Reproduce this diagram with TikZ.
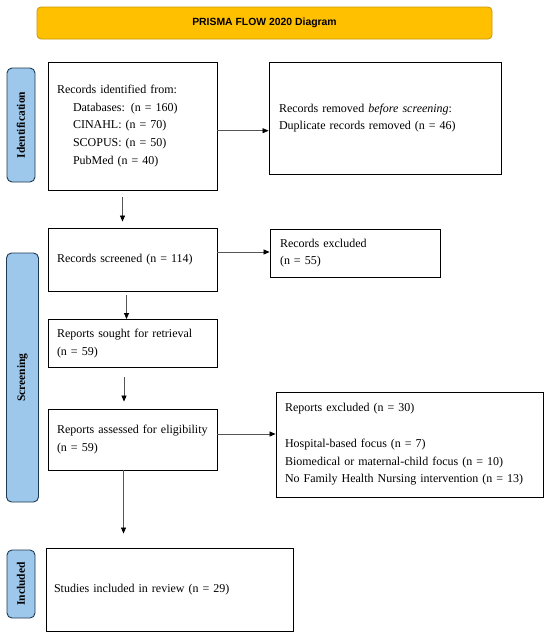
\documentclass[tikz,border=0pt]{standalone}
\usepackage{fontspec}
\setmainfont{Liberation Serif}
\newfontfamily\titlefont{Liberation Sans}
\usetikzlibrary{arrows.meta}
\definecolor{titlefill}{HTML}{FFC000}
\definecolor{titledraw}{HTML}{C8960A}
\definecolor{barfill}{HTML}{9DC8EC}
\definecolor{bardraw}{HTML}{1E3A52}
\definecolor{arrcol}{HTML}{555555}
\begin{document}
\begin{tikzpicture}[x=1pt,y=-1pt,
  box/.style={draw=black, line width=0.9pt, fill=white, inner ysep=0pt,
    align=left, anchor=center,
    font=\fontsize{12}{17.7}\selectfont},
  sidebar/.style={draw=bardraw, line width=0.9pt, fill=barfill, rounded corners=5pt,
    inner sep=0pt, anchor=center},
  sidelabel/.style={rotate=90, font=\fontsize{11.5}{12}\selectfont\bfseries},
  arr/.style={draw=arrcol, line width=0.7pt, -{Triangle[length=6pt,width=5pt,fill=black,color=black]}}
]
\useasboundingbox (0,0) rectangle (550,637);
\fill[white] (0,0) rectangle (550,637);

% title
\node[draw=titledraw, line width=0.8pt, fill=titlefill, rounded corners=4pt,
  minimum width=455, minimum height=32, inner sep=0pt,
  font=\titlefont\fontsize{10.4}{12}\selectfont\bfseries] (title) at (264.5,23) {PRISMA FLOW 2020 Diagram};

% side bars
\node[sidebar, minimum width=28, minimum height=114] (barid) at (21,125) {};
\node[sidelabel] (labid) at (barid.center) {Identification};
\node[sidebar, minimum width=32, minimum height=249] (barscr) at (22.5,377.5) {};
\node[sidelabel] (labscr) at (barscr.center) {Screening};
\node[sidebar, minimum width=28, minimum height=68] (barinc) at (21,584) {};
\node[sidelabel] (labinc) at (barinc.center) {Included};

% boxes
\node[box, minimum height=128, text width=151, inner xsep=9] (id) at (132.5,126)
  {Records identified from:\\
   \hspace*{16pt}Databases: (n = 160)\\
   \hspace*{16pt}CINAHL: (n = 70)\\
   \hspace*{16pt}SCOPUS: (n = 50)\\
   \hspace*{16pt}PubMed (n = 40)};
\node[box, minimum height=112, text width=212, inner xsep=10] (rem) at (385,118)
  {Records removed \textit{before screening}:\\
   Duplicate records removed (n = 46)};
\node[box, minimum height=63, text width=151, inner xsep=9] (scr) at (132.5,259.5)
  {Records screened (n = 114)};
\node[box, minimum height=48, text width=150, inner xsep=10] (exc) at (355,253)
  {Records excluded\\(n = 55)};
\node[box, minimum height=48, text width=151, inner xsep=9] (sou) at (132.5,343.5)
  {Reports sought for retrieval\\(n = 59)};
\node[box, minimum height=61, text width=151, inner xsep=9] (ass) at (132.5,439.5)
  {Reports assessed for eligibility\\(n = 59)\\[5pt]};
\node[box, minimum height=105, text width=249, inner xsep=9] (rexc) at (409.5,444.5)
  {Reports excluded (n = 30)\\[17.7pt]
   Hospital-based focus (n = 7)\\
   Biomedical or maternal-child focus (n = 10)\\
   No Family Health Nursing intervention (n = 13)};
\node[box, minimum height=83, text width=231, inner xsep=8] (inc) at (169.5,589.5)
  {Studies included in review (n = 29)};

% arrows
\draw[arr] ([yshift=-4.7pt]id.east) -- ([yshift=-4.7pt]id.east -| rem.west);
\draw[arr] ([yshift=7.5pt]scr.east) -- ([yshift=7.5pt]scr.east -| exc.west);
\draw[arr] ([yshift=5.5pt]ass.east) -- ([yshift=5.5pt]ass.east -| rexc.west);
\draw[arr] ([xshift=-10pt,yshift=-7pt]id.south) -- ([xshift=-10pt,yshift=6pt]scr.north);
\draw[arr] ([xshift=-6pt,yshift=-4pt]scr.south) -- ([xshift=-6pt]scr.south |- sou.north);
\draw[arr] ([xshift=-8.5pt,yshift=-9pt]sou.south) -- ([xshift=-8.5pt,yshift=7pt]ass.north);
\draw[arr] ([xshift=-9pt]ass.south) -- ([xshift=-9pt,yshift=14pt]ass.south |- inc.north);
\end{tikzpicture}
\end{document}
